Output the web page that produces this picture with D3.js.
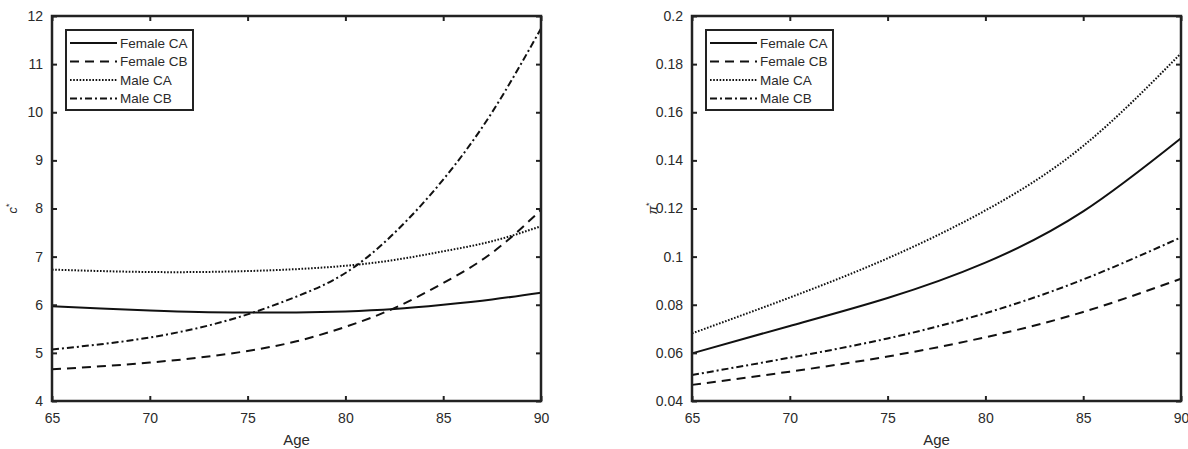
<!DOCTYPE html>
<html>
<head>
<meta charset="utf-8">
<script src="https://cdn.jsdelivr.net/npm/d3@7"></script>
<style>
  body { margin: 0; background: #fff; }
  text { font-family: "Liberation Sans", Arial, sans-serif; fill: #2a2a2a; }
</style>
</head>
<body>
<svg id="chart" width="1188" height="449"></svg>
<script>
// ages
var agesLeft = [65, 67.5, 70, 72.5, 75, 77.5, 80, 82.5, 85, 87.5, 90];
var agesRight = [65, 70, 75, 80, 85, 90];

// left panel: c*
var cFemaleCA = [5.97, 5.92, 5.88, 5.85, 5.84, 5.84, 5.86, 5.91, 6.00, 6.11, 6.25];
var cFemaleCB = [4.66, 4.72, 4.80, 4.90, 5.04, 5.24, 5.54, 5.93, 6.45, 7.08, 7.97];
var cMaleCA   = [6.73, 6.70, 6.68, 6.68, 6.70, 6.74, 6.81, 6.93, 7.11, 7.32, 7.63];
var cMaleCB   = [5.07, 5.18, 5.32, 5.52, 5.80, 6.17, 6.66, 7.49, 8.60, 10.0, 11.74];

// right panel: pi*
var pFemaleCA = [0.0598, 0.0712, 0.0828, 0.0975, 0.1188, 0.1492];
var pFemaleCB = [0.0467, 0.0522, 0.0585, 0.0665, 0.0770, 0.0908];
var pMaleCA   = [0.0681, 0.0830, 0.0993, 0.1192, 0.1460, 0.1845];
var pMaleCB   = [0.0508, 0.0580, 0.0660, 0.0765, 0.0905, 0.1080];

var seriesNames = ["Female CA", "Female CB", "Male CA", "Male CB"];
var dashes = [null, "9,6", "1.6,1.6", "7,3,2,3"];

var xTicks = [65, 70, 75, 80, 85, 90];
var yTicksLeft = [4, 5, 6, 7, 8, 9, 10, 11, 12];
var yTicksRight = [0.04, 0.06, 0.08, 0.1, 0.12, 0.14, 0.16, 0.18, 0.2];

var svg = d3.select("#chart");

function panel(left, ages, series, yDomain, yTicks, yFmt, ylab) {
  var top = 16, bottom = 401, right = left + 489;
  var x = d3.scaleLinear().domain([65, 90]).range([left, right]);
  var y = d3.scaleLinear().domain(yDomain).range([bottom, top]);
  var g = svg.append("g");

  var line = d3.line()
    .x(function(d){ return x(d[0]); })
    .y(function(d){ return y(d[1]); })
    .curve(d3.curveNatural);

  series.forEach(function(s, i){
    g.append("path")
      .datum(ages.map(function(a, k){ return [a, s[k]]; }))
      .attr("d", line)
      .attr("fill", "none")
      .attr("stroke", "#111")
      .attr("stroke-width", 2)
      .attr("stroke-dasharray", dashes[i]);
  });

  // ticks pointing inward on all four sides (matlab box)
  g.append("g").attr("transform", "translate(0," + bottom + ")")
    .call(d3.axisBottom(x).tickValues(xTicks).tickSize(-5).tickPadding(12).tickFormat(d3.format("d")));
  g.append("g").attr("transform", "translate(0," + top + ")")
    .call(d3.axisTop(x).tickValues(xTicks).tickSize(-5).tickFormat(""));
  g.append("g").attr("transform", "translate(" + left + ",0)")
    .call(d3.axisLeft(y).tickValues(yTicks).tickSize(-5).tickPadding(9).tickFormat(yFmt));
  g.append("g").attr("transform", "translate(" + right + ",0)")
    .call(d3.axisRight(y).tickValues(yTicks).tickSize(-5).tickFormat(""));
  g.selectAll(".domain").remove();
  g.selectAll(".tick line").attr("stroke", "#222").attr("stroke-width", 2);
  g.selectAll(".tick text").attr("font-size", 14).attr("fill", "#333")
    .style("font-family", "'Liberation Sans', Arial, sans-serif");

  g.append("rect")
    .attr("x", left).attr("y", top)
    .attr("width", right - left).attr("height", bottom - top)
    .attr("fill", "none").attr("stroke", "#222").attr("stroke-width", 2.5);

  g.append("text")
    .attr("x", (left + right) / 2).attr("y", 445)
    .attr("text-anchor", "middle").attr("font-size", 15)
    .text("Age");

  var yl = g.append("text")
    .attr("transform", "translate(" + (left - 35) + "," + ((top + bottom) / 2) + ") rotate(-90)")
    .attr("text-anchor", "middle").attr("font-size", 13)
    .attr("font-family", "'DejaVu Serif', serif").attr("font-style", "italic");
  yl.append("tspan").text(ylab);
  yl.append("tspan").attr("dy", -5).attr("font-size", 9).attr("font-style", "normal").text("*");

  // legend
  var lx = left + 14, ly = 30;
  var lg = g.append("g");
  lg.append("rect")
    .attr("x", lx).attr("y", ly).attr("width", 127).attr("height", 80)
    .attr("fill", "#fff").attr("stroke", "#222").attr("stroke-width", 2);
  seriesNames.forEach(function(n, i){
    var yy = ly + 13 + i * 18.5;
    lg.append("line")
      .attr("x1", lx + 4).attr("x2", lx + 51).attr("y1", yy).attr("y2", yy)
      .attr("stroke", "#111").attr("stroke-width", 2)
      .attr("stroke-dasharray", dashes[i]);
    lg.append("text")
      .attr("x", lx + 54).attr("y", yy + 4.5)
      .attr("font-size", 13.5).attr("fill", "#333")
      .text(n);
  });
}

panel(52, agesLeft, [cFemaleCA, cFemaleCB, cMaleCA, cMaleCB], [4, 12], yTicksLeft, d3.format("d"), "c");
panel(692, agesRight, [pFemaleCA, pFemaleCB, pMaleCA, pMaleCB], [0.04, 0.2], yTicksRight, function(d){ return String(+d.toFixed(2)); }, "π");
</script>
</body>
</html>
